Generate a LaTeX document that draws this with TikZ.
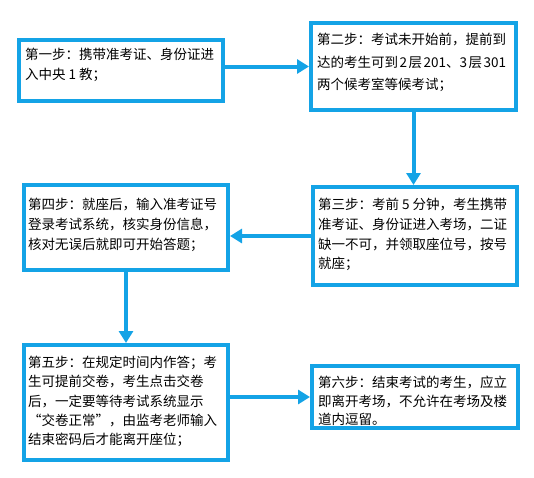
\documentclass[tikz,border=0pt]{standalone}
\usepackage{fontspec}
\newfontfamily\cjk{Noto Sans CJK SC}
\usetikzlibrary{arrows.meta}
\definecolor{mainblue}{RGB}{20,163,230}
\tikzset{
  box/.style={draw=mainblue, line width=4pt, fill=white, inner sep=0pt, rectangle},
  txt/.style={anchor=north west, inner sep=0pt, align=left, text=black},
  conn/.style={draw=mainblue, line width=4pt, -{Triangle[length=12pt,width=14pt]}}
}
\newcommand{\tsp}{\hspace{1.5pt}}
\begin{document}
\begin{tikzpicture}[x=1pt,y=-1pt]
\useasboundingbox (0,0) rectangle (534,477);
\node[box, minimum width=204pt, minimum height=61pt] (b1) at (121,70.5) {};
\node[box, minimum width=205pt, minimum height=87pt] (b2) at (413.5,66.5) {};
\node[box, minimum width=204pt, minimum height=98pt] (b3) at (415,236) {};
\node[box, minimum width=204pt, minimum height=85pt] (b4) at (126,227.5) {};
\node[box, minimum width=204pt, minimum height=115pt] (b5) at (126,402.5) {};
\node[box, minimum width=206pt, minimum height=62pt] (b6) at (415,397) {};

\node[txt, font={\cjk\fontsize{13.5}{20}\selectfont}] (t1) at (25,48) {第一步：携带准考证、身份证进\\入中央 1 教；};
\node[txt, font={\cjk\fontsize{13.5}{22.5}\selectfont}] (t2) at (317,33) {第二步：考试未开始前，提前到\\达的考生可到\tsp 2\tsp 层\tsp 201、3\tsp 层\tsp 301\\两个候考室等候考试；};
\node[txt, font={\cjk\fontsize{13.5}{19.7}\selectfont}] (t3) at (318,198) {第三步：考前 5 分钟，考生携带\\准考证、身份证进入考场，二证\\缺一不可，并领取座位号，按号\\就座；};
\node[txt, font={\cjk\fontsize{13.5}{20}\selectfont}] (t4) at (28,198) {第四步：就座后，输入准考证号\\登录考试系统，核实身份信息，\\核对无误后就即可开始答题；};
\node[txt, font={\cjk\fontsize{13.5}{19.3}\selectfont}] (t5) at (28,356) {第五步：在规定时间内作答；考\\生可提前交卷，考生点击交卷\\后，一定要等待考试系统显示\\“交卷正常”，由监考老师输入\\结束密码后才能离开座位；};
\node[txt, font={\cjk\fontsize{13.5}{18.5}\selectfont}] (t6) at (318,376) {第六步：结束考试的考生，应立\\即离开考场，不允许在考场及楼\\道内逗留。};

\draw[conn] (b2.west -| b1.east) -- (b2.west);
\draw[conn] (b2.south) -- (b2.south |- b3.north);
\draw[conn] (b3.west) -- (b3.west -| b4.east);
\draw[conn] (b4.south) -- (b4.south |- b5.north);
\draw[conn] (b6.west -| b5.east) -- (b6.west);
\end{tikzpicture}
\end{document}
